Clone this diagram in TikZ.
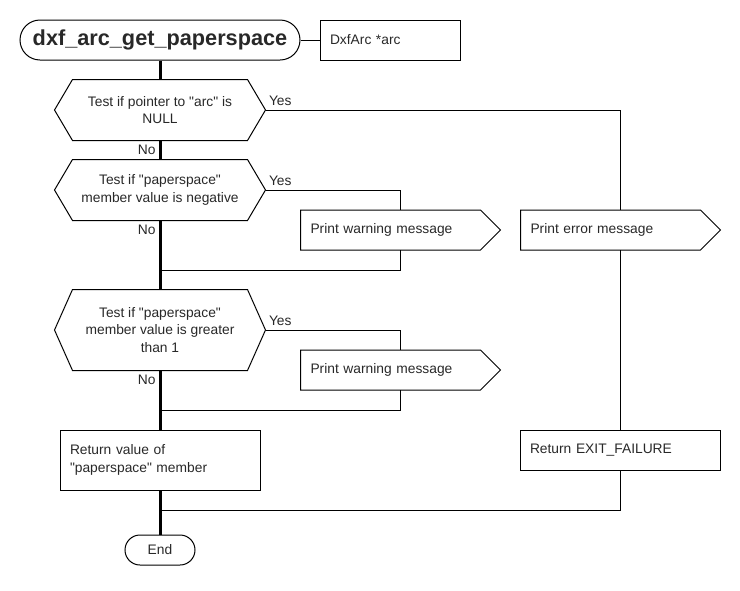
\documentclass[tikz,border=0pt]{standalone}
\usepackage{fontspec}
\setmainfont{Liberation Sans}[Ligatures=TeXOff]
\usepackage{tikz}
\usetikzlibrary{calc, positioning, shapes.misc, shapes.symbols}
\definecolor{txtgray}{RGB}{40, 40, 40}

\begin{document}
\begin{tikzpicture}[x=1pt, y=-1pt, line width=1pt,
  font=\fontsize{13.8}{17.5}\selectfont, text=txtgray,
  spine/.style={line width=3pt},
  term/.style={draw, rounded rectangle, inner sep=0pt},
  test/.style={rectangle, minimum width=210pt, align=center, inner sep=0pt},
  msgbox/.style={draw, signal, signal to=east, signal pointer angle=90,
    text width=160pt, inner xsep=10pt, minimum height=40pt, align=left},
  plainbox/.style={draw, rectangle, inner xsep=10pt, align=left},
  lbl/.style={inner sep=1pt}]
  \useasboundingbox (0,0) rectangle (740,590);

  % header
  \node[term, minimum width=280pt, minimum height=40pt,
    font=\fontsize{21.7}{24}\selectfont\bfseries] (title) at (160,40) {dxf\_arc\_get\_paperspace};
  \node[plainbox, text width=120pt, minimum height=40pt] (arg) at (390,40) {DxfArc *arc};
  \draw (title.east) -- (arg.west);

  % tests
  \node[test, minimum height=60pt] (t1) at (160,110)
    {Test if pointer to "arc" is\\NULL};
  \node[test, minimum height=60pt] (t2) at (160,190)
    {Test if "paperspace"\\member value is negative};
  \node[test, minimum height=80pt] (t3) at (160,330)
    {Test if "paperspace"\\member value is greater\\than 1};
  \foreach \t in {t1,t2,t3}
    \draw (\t.west) -- ([xshift=18pt]\t.north west) -- ([xshift=-18pt]\t.north east)
      -- (\t.east) -- ([xshift=-18pt]\t.south east) -- ([xshift=18pt]\t.south west) -- cycle;

  % messages
  \node[msgbox, anchor=west] (w1) at (300,230) {Print warning message};
  \node[msgbox, anchor=west] (w2) at (300,370) {Print warning message};
  \node[msgbox, anchor=west] (err) at (520,230) {Print error message};

  % returns
  \node[plainbox, text width=180pt, minimum height=60pt] (ret) at (160,460)
    {Return value of\\"paperspace" member};
  \node[plainbox, text width=180pt, minimum height=40pt] (fail) at (620,450) {Return EXIT\_FAILURE};
  \node[term, minimum width=70pt, minimum height=30pt] (stop) at (160,550) {End};

  % joins on the spine
  \coordinate (j1) at (160,270);
  \coordinate (j2) at (160,410);
  \coordinate (j3) at (160,510);
  \coordinate (w1top) at (400,210);
  \coordinate (w2top) at (400,350);
  \coordinate (w1bot) at (400,250);
  \coordinate (w2bot) at (400,390);
  \coordinate (errtop) at (620,210);
  \coordinate (errbot) at (620,250);

  % main line
  \draw[spine] (title.south) -- (t1.north);
  \draw[spine] (t1.south) -- (t2.north);
  \draw[spine] (t2.south) -- (t3.north);
  \draw[spine] (t3.south) -- (ret.north);
  \draw[spine] (ret.south) -- (stop.north);

  % branches
  \draw (t1.east) -| (errtop);
  \draw (errbot) -- (fail.north);
  \draw (fail.south) |- (j3);
  \draw (t2.east) -| (w1top);
  \draw (w1bot) |- (j1);
  \draw (t3.east) -| (w2top);
  \draw (w2bot) |- (j2);

  % labels
  \node[lbl, anchor=south west] (y1) at ([xshift=2pt, yshift=3pt]t1.east) {Yes};
  \node[lbl, anchor=south west] (y2) at ([xshift=2pt, yshift=3pt]t2.east) {Yes};
  \node[lbl, anchor=south west] (y3) at ([xshift=2pt, yshift=3pt]t3.east) {Yes};
  \node[lbl, anchor=north east] (n1) at ([xshift=-3pt, yshift=-3pt]t1.south) {No};
  \node[lbl, anchor=north east] (n2) at ([xshift=-3pt, yshift=-3pt]t2.south) {No};
  \node[lbl, anchor=north east] (n3) at ([xshift=-3pt, yshift=-3pt]t3.south) {No};
\end{tikzpicture}
\end{document}
